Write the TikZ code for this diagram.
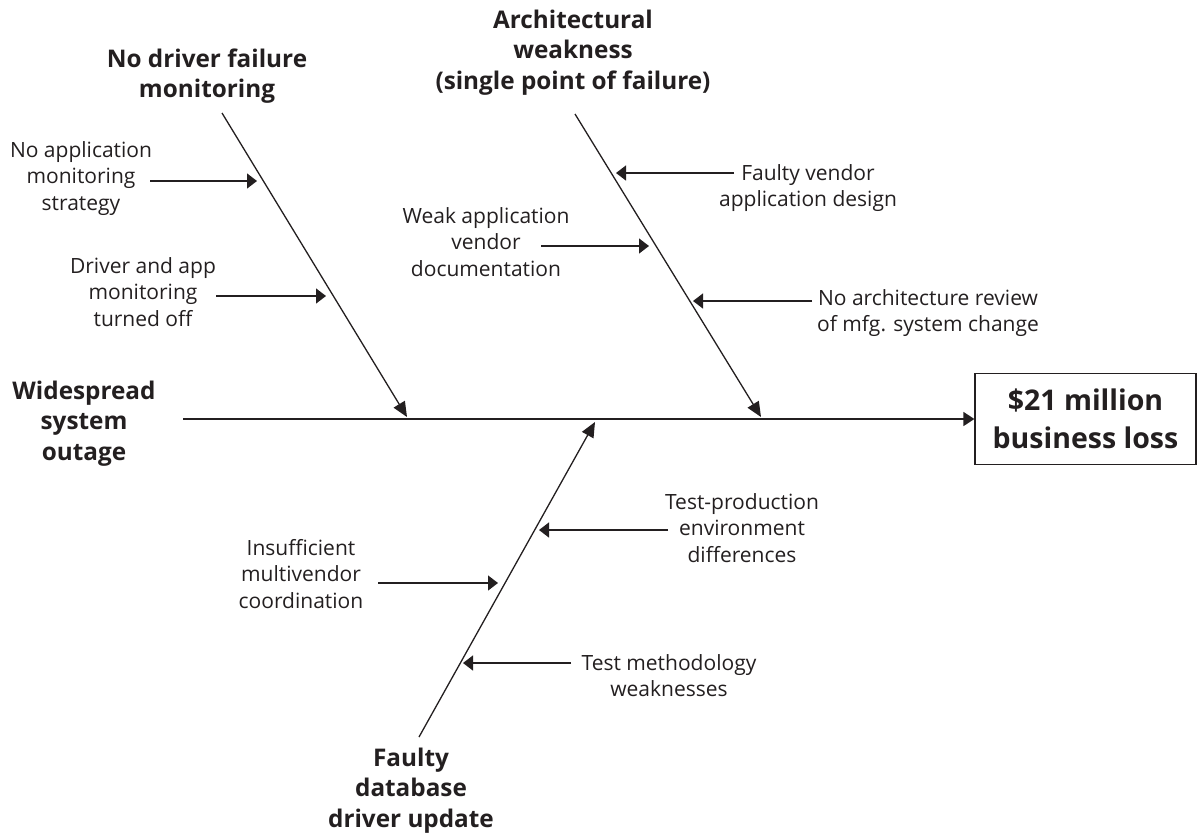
\documentclass[tikz,border=0pt]{standalone}
\usepackage{fontspec}
\setmainfont{Open Sans}
\usetikzlibrary{arrows.meta}
\definecolor{ink}{HTML}{231F20}
\begin{document}
\begin{tikzpicture}[x=1pt,y=-1pt,
  every node/.style={text=ink, inner sep=0pt},
  cause/.style={align=center, font=\fontsize{21}{26.5}\selectfont, anchor=base},
  major/.style={align=center, font=\bfseries\fontsize{24.3}{30.5}\selectfont, anchor=base},
  bone/.style={draw=ink, line width=1.3pt, -{Triangle[length=15pt,width=13pt]}},
  rib/.style={draw=ink, line width=1.3pt, -{Triangle[length=10pt,width=15pt]}},
  spinestyle/.style={draw=ink, line width=1.8pt, -{Triangle[length=11pt,width=14pt]}},
  lossbox/.style={draw=ink, line width=1.3pt, minimum width=221pt, minimum height=91pt,
     align=center, font=\bfseries\fontsize{28.5}{38}\selectfont},
  ]
\useasboundingbox (0,0) rectangle (1204,833);

% effect and box (base anchor = baseline of last line)
\node[major] (effect) at (84,460) {Widespread\\system\\outage};
\node[lossbox] (loss) at (1085.5,419) {\$21 million\\business loss};

% major causes
\node[major] (t1) at (207,97.5) {No driver failure\\monitoring};
\node[major] (t2) at (573,89) {Architectural\\weakness\\(single point of failure)};
\node[major] (t3) at (411,827) {Faulty\\database\\driver update};

% minor causes
\node[cause] (c11) at (81,210) {No application\\monitoring\\strategy};
\node[cause] (c12) at (143,326) {Driver and app\\monitoring\\turned off};
\node[cause] (c21) at (808,206.5) {Faulty vendor\\application design};
\node[cause] (c22) at (486,276) {Weak application\\vendor\\documentation};
\node[cause] (c23) at (928,331.5) {No architecture review\\of mfg. system change};
\node[cause] (c31) at (742,562) {Test-production\\environment\\differences};
\node[cause] (c32) at (301,608) {Insufficient\\multivendor\\coordination};
\node[cause] (c33) at (669,696.5) {Test methodology\\weaknesses};

% coordinates
\coordinate (s0) at (183,419);
\coordinate (b1s) at (222,113); \coordinate (b1e) at (407,417);
\coordinate (b2s) at (575,114); \coordinate (b2e) at (761,417);
\coordinate (b3s) at (419,737); \coordinate (b3e) at (595,422);
\coordinate (r11s) at (150,181); \coordinate (r11e) at (257,181);
\coordinate (r12s) at (216,296); \coordinate (r12e) at (326,296);
\coordinate (r21s) at (734,173); \coordinate (r21e) at (616,173);
\coordinate (r22s) at (541,246); \coordinate (r22e) at (649,246);
\coordinate (r23s) at (812,301); \coordinate (r23e) at (693,301);
\coordinate (r31s) at (668,530); \coordinate (r31e) at (539,530);
\coordinate (r32s) at (378,583); \coordinate (r32e) at (498,583);
\coordinate (r33s) at (571,663); \coordinate (r33e) at (463,663);

% spine and bones
\draw[spinestyle] (s0) -- (loss.west);
\draw[bone] (b1s) -- (b1e);
\draw[bone] (b2s) -- (b2e);
\draw[bone] (b3s) -- (b3e);

% ribs
\draw[rib] (r11s) -- (r11e);
\draw[rib] (r12s) -- (r12e);
\draw[rib] (r21s) -- (r21e);
\draw[rib] (r22s) -- (r22e);
\draw[rib] (r23s) -- (r23e);
\draw[rib] (r31s) -- (r31e);
\draw[rib] (r32s) -- (r32e);
\draw[rib] (r33s) -- (r33e);
\end{tikzpicture}
\end{document}
